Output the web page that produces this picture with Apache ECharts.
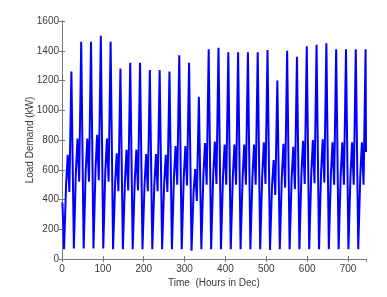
<!DOCTYPE html>
<html>
<head>
<meta charset="utf-8">
<script src="https://cdn.jsdelivr.net/npm/echarts@6/dist/echarts.min.js"></script>
<style>
html,body{margin:0;padding:0;background:#fff;}
#c{width:387px;height:297px;}
</style>
</head>
<body>
<div id="c"></div>
<script>
// Per-day key values (31 days of December)
var peakVals = [1260,1460,1460,1500,1460,1280,1320,1320,1270,1270,1260,1370,1320,1090,1410,1420,1390,1390,1390,1390,1405,1200,1400,1360,1430,1440,1450,1410,1410,1410,1410];
var midVals  = [700,810,810,835,810,710,735,735,705,705,700,760,760,605,780,790,770,770,770,770,785,665,775,755,795,800,805,785,785,785,785];
var dipVals  = [450,520,520,530,520,455,460,460,455,455,450,500,495,390,500,505,500,500,500,500,505,430,480,470,505,510,515,500,500,500,500];
var minVals  = [65,70,70,70,70,65,65,65,65,65,65,65,65,55,65,65,65,65,65,65,65,60,65,65,65,65,65,65,65,65,65];
var shoulderVals = [500,590,590,600,590,510,520,520,500,500,500,550,550,450,560,560,550,550,550,550,560,490,550,540,570,570,575,560,560,560,560];
var startVal = 380;   // value at hour 1
var endVal = 720;     // value at hour 744
// hour-of-day where each key value occurs
var keyHours = {min: 5, shoulder: 10, mid: 14, dip: 18, peak: 23};
var xTicks = [0,100,200,300,400,500,600,700];
var yTicks = [0,200,400,600,800,1000,1200,1400,1600];

var pts = [[1, startVal]];
for (var d = 0; d < peakVals.length; d++) {
  var b = 24 * d;
  pts.push([b + keyHours.min, minVals[d]]);
  pts.push([b + keyHours.shoulder, shoulderVals[d]]);
  pts.push([b + keyHours.mid, midVals[d]]);
  pts.push([b + keyHours.dip, dipVals[d]]);
  pts.push([b + keyHours.peak, peakVals[d]]);
}
pts.push([744, endVal]);

var axisCol = '#777';
var txtCol = '#3a3a3a';
var font = 'Liberation Sans, Arial, sans-serif';

var chart = echarts.init(document.getElementById('c'), null, {renderer: 'canvas'});
chart.setOption({
  animation: false,
  backgroundColor: '#fff',
  grid: {left: 62, right: 21, top: 21, bottom: 38},
  xAxis: [{
    type: 'value', min: 0, max: 744, interval: 100,
    name: 'Time  (Hours in Dec)', nameLocation: 'middle', nameGap: 19,
    nameMoveOverlap: false,
    nameTextStyle: {color: txtCol, fontSize: 10, fontFamily: font},
    axisLine: {show: true, lineStyle: {color: axisCol, width: 1}},
    axisTick: {show: true, inside: true, length: 3, lineStyle: {color: axisCol}},
    axisLabel: {color: txtCol, fontSize: 10, fontFamily: font, margin: 5, showMaxLabel: false,
      formatter: function(v){ return xTicks.indexOf(v) >= 0 ? String(v) : ''; }},
    splitLine: {show: false}
  }, {
    type: 'value', min: 0, max: 744, interval: 100, position: 'top',
    axisLine: {show: true, lineStyle: {color: axisCol, width: 1}},
    axisTick: {show: true, inside: true, length: 3, lineStyle: {color: axisCol}},
    axisLabel: {show: false}, splitLine: {show: false}
  }],
  yAxis: [{
    type: 'value', min: 0, max: 1600, interval: 200,
    name: 'Load Demand (kW)', nameLocation: 'middle', nameGap: 27,
    nameMoveOverlap: false,
    nameTextStyle: {color: txtCol, fontSize: 10, fontFamily: font},
    axisLine: {show: true, lineStyle: {color: axisCol, width: 1}},
    axisTick: {show: true, inside: true, length: 3, lineStyle: {color: axisCol}},
    axisLabel: {color: txtCol, fontSize: 10, fontFamily: font, margin: 3,
      formatter: function(v){ return yTicks.indexOf(v) >= 0 ? String(v) : ''; }},
    splitLine: {show: false}
  }, {
    type: 'value', min: 0, max: 1600, interval: 200, position: 'right',
    axisLine: {show: true, lineStyle: {color: axisCol, width: 1}},
    axisTick: {show: true, inside: true, length: 3, lineStyle: {color: axisCol}},
    axisLabel: {show: false}, splitLine: {show: false}
  }],
  series: [{
    type: 'line', xAxisIndex: 0, yAxisIndex: 0,
    data: pts, showSymbol: false, symbol: 'none',
    lineStyle: {color: '#0000ff', width: 2},
    itemStyle: {color: '#0000ff'}
  }]
});
</script>
</body>
</html>
